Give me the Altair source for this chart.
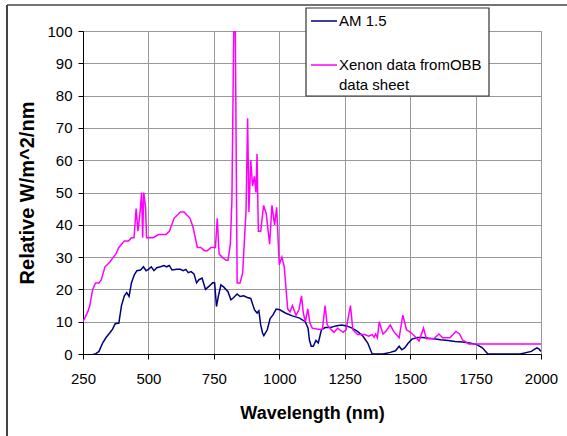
import altair as alt
import pandas as pd

# ---- data ----
am_wl = [290, 297, 311, 325, 338, 352, 363, 373, 387, 397, 408, 417, 426, 435, 446, 456, 470,
         481, 491, 500, 511, 521, 532, 546, 560, 569, 580, 590, 608, 622, 633, 643, 652, 663,
         674, 684, 693, 705, 718, 732, 746, 753, 760, 767, 777, 788, 804, 815, 826, 839, 850,
         864, 878, 891, 905, 915, 922, 929, 936, 941, 954, 965, 976, 988, 1002, 1023, 1050,
         1078, 1099, 1110, 1115, 1122, 1130, 1140, 1149, 1161, 1175, 1196, 1216, 1237, 1258,
         1278, 1299, 1320, 1338, 1355, 1396, 1424, 1444, 1458, 1468, 1479, 1493, 1507, 1527,
         1548, 1569, 1590, 1617, 1645, 1672, 1700, 1728, 1755, 1776, 1797, 1921, 1963, 1984,
         1993, 2000]
am_val = [0, 0, 0.8, 3.4, 5.1, 6.5, 7.7, 9.4, 9.6, 15, 18, 19, 17.8, 22, 24.5, 25.8, 26,
          27, 25.8, 26.2, 27, 25.8, 26.7, 27, 27.4, 27, 27.4, 26, 26.2, 26.2, 25.8, 26.2, 25.2,
          25.5, 24.8, 22, 23, 23.5, 20, 21, 22.1, 22, 14.7, 17.8, 21.4, 20.7, 19.3, 16.8, 17.5,
          18.6, 17.8, 18, 17.5, 17.2, 13.7, 12.7, 13.4, 9, 6.5, 5.7, 7.5, 11, 12.1, 13.9, 13.7,
          12.7, 11.8, 11.1, 10, 8, 4.4, 2.4, 2.4, 4.2, 3.4, 7.5, 8.2, 8.2, 8.7, 9, 8.7, 8, 7,
          5.5, 3.4, 0, 0, 0.5, 1, 2.4, 1.3, 1.9, 3.4, 4.6, 5.1, 5.1, 4.9, 4.7, 4.4, 4.2, 3.9,
          3.7, 3.4, 2.9, 1.9, 0, 0, 0.8, 1.9, 1.5, 0.8]

xe_wl = [250, 269, 276, 287, 298, 311, 320, 334, 352, 366, 376, 387, 408, 424, 435, 445, 453,
         460, 467, 474, 478, 482, 489, 493, 504, 518, 539, 567, 580, 598, 622, 636, 659, 670,
         687, 700, 714, 725, 739, 756, 763, 770, 781, 797, 804, 813, 819, 826, 832, 839, 850,
         860, 873, 879, 884, 891, 898, 905, 911, 915, 920, 929, 940, 950, 963, 972, 982, 990,
         1000, 1010, 1019, 1032, 1041, 1050, 1064, 1075, 1085, 1092, 1100, 1109, 1117, 1126,
         1147, 1165, 1175, 1183, 1197, 1209, 1223, 1244, 1255, 1272, 1281, 1299, 1327, 1341,
         1355, 1362, 1368, 1375, 1382, 1396, 1407, 1424, 1437, 1458, 1472, 1486, 1500, 1518,
         1534, 1551, 1562, 1590, 1610, 1624, 1652, 1675, 1689, 1700, 1724, 2000]
xe_val = [10, 13.2, 15, 20, 22, 22, 23, 27, 28.4, 30, 31, 33, 35, 35, 36, 36, 45,
          38, 43, 50, 36, 50, 45.5, 36, 36, 36, 37, 37, 38, 42, 44, 44, 42, 39.4,
          33, 33, 32, 32, 33, 33, 42, 31, 30, 29, 29, 34, 47.6, 100, 100, 22, 22,
          25, 44.5, 73, 44, 60, 52, 55, 50, 62, 38, 38, 46, 43.5, 34, 46, 40, 45.4,
          27.6, 30, 27, 14, 13, 15, 12, 13.7, 18, 12.6, 10, 14, 9.6, 8,
          7.7, 7.7, 15, 9, 7.7, 6.7, 8, 6.7, 7.5, 15, 7.5, 6, 6, 5.5,
          6, 5.2, 6.2, 5, 10, 6.2, 7, 9, 7, 5, 12, 7.5, 6.8, 5.5,
          4, 8, 4.7, 4.7, 6.2, 5, 5, 7, 6.2, 4.4, 3.1, 3.1]

series_names = ["AM 1.5", "Xenon data fromOBB data sheet"]
legend_lines = [["AM 1.5"], ["Xenon data fromOBB", "data sheet"]]
series_colors = ["#000080", "#FF00FF"]
x_ticks = [250, 500, 750, 1000, 1250, 1500, 1750, 2000]
y_ticks = [0, 10, 20, 30, 40, 50, 60, 70, 80, 90, 100]

df = pd.concat([
    pd.DataFrame({"wl": am_wl, "val": am_val, "series": series_names[0]}),
    pd.DataFrame({"wl": xe_wl, "val": xe_val, "series": series_names[1]}),
], ignore_index=True)

FONT = "Liberation Sans"
one = pd.DataFrame({"k": [0]})

lines = alt.Chart(df).mark_line(strokeWidth=1.5, clip=True).encode(
    x=alt.X("wl:Q",
            scale=alt.Scale(domain=[250, 2000], nice=False, zero=False),
            axis=alt.Axis(values=x_ticks, title="Wavelength (nm)", labelPadding=12,
                          titlePadding=18, format="d", labelFlush=False)),
    y=alt.Y("val:Q",
            scale=alt.Scale(domain=[0, 100], nice=False),
            axis=alt.Axis(values=y_ticks, title="Relative W/m^2/nm", labelPadding=6,
                          titlePadding=9, titleFontSize=20, labelFlush=False)),
    color=alt.Color("series:N", scale=alt.Scale(domain=series_names, range=series_colors),
                    legend=None),
)

# ---- hand-made legend box (as in the original spreadsheet chart) ----
legend_box = alt.Chart(one).mark_rect(fill="white", stroke="#333333", strokeWidth=1.2).encode(
    x=alt.value(223), x2=alt.value(406), y=alt.value(-23), y2=alt.value(65))
sym_am = alt.Chart(one).mark_rule(color=series_colors[0], strokeWidth=1.5).encode(
    x=alt.value(228), x2=alt.value(254), y=alt.value(-10))
sym_xe = alt.Chart(one).mark_rule(color=series_colors[1], strokeWidth=1.5).encode(
    x=alt.value(228), x2=alt.value(254), y=alt.value(34))
txt_am = alt.Chart(one).mark_text(align="left", baseline="middle", font=FONT, fontSize=15,
                                  color="black").encode(
    x=alt.value(256), y=alt.value(-10), text=alt.value(legend_lines[0][0]))
txt_xe1 = alt.Chart(one).mark_text(align="left", baseline="middle", font=FONT, fontSize=15,
                                   color="black").encode(
    x=alt.value(256), y=alt.value(34), text=alt.value(legend_lines[1][0]))
txt_xe2 = alt.Chart(one).mark_text(align="left", baseline="middle", font=FONT, fontSize=15,
                                   color="black").encode(
    x=alt.value(256), y=alt.value(54), text=alt.value(legend_lines[1][1]))

# ---- outer chart frame (left and top edges visible in the picture) ----
frame_left = alt.Chart(one).mark_rule(color="#444444", strokeWidth=2).encode(
    x=alt.value(-76), y=alt.value(-26), y2=alt.value(420))
frame_top = alt.Chart(one).mark_rule(color="#444444", strokeWidth=1.5).encode(
    x=alt.value(-76), x2=alt.value(500), y=alt.value(-26))

chart = alt.layer(
    frame_left, frame_top, lines, legend_box, sym_am, sym_xe, txt_am, txt_xe1, txt_xe2
).properties(
    width=458, height=323,
    autosize=alt.AutoSizeParams(type="none"),
    padding={"left": 83, "top": 31, "right": 26, "bottom": 82},
    background="white",
).configure_axis(
    labelFont=FONT, labelFontSize=15, labelColor="black",
    titleFont=FONT, titleFontSize=18, titleFontWeight="bold", titleColor="black",
    gridColor="#999999", gridWidth=1, domainColor="black", domainWidth=1,
    tickColor="black", tickSize=5,
).configure_view(stroke="#999999", strokeWidth=1)

chart.save("out.html", embed_options={"renderer": "svg", "actions": False})
